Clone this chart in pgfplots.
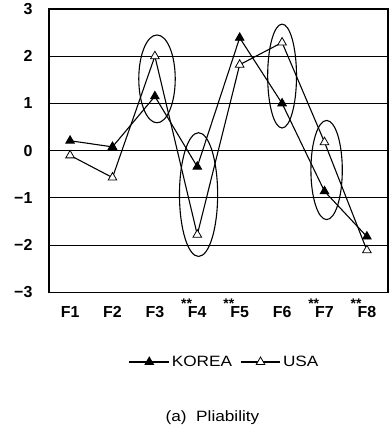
\documentclass[border=0pt]{standalone}
\usepackage{fontspec}
\setmainfont{Liberation Sans}
\newfontfamily\wide{Liberation Sans}[FakeStretch=1.15]
\usepackage{pgfplots}
\pgfplotsset{compat=1.18}
\newcommand{\stars}{\llap{\smash{\raisebox{9pt}{\fontsize{14}{14}\selectfont\bfseries **}}\kern-4pt}}
\begin{document}
\begin{tikzpicture}
\begin{axis}[
  scale only axis, width=340pt, height=284pt,
  xmin=0.5, xmax=8.5, ymin=-3, ymax=3,
  xtick={1,2,3,4,5,6,7,8},
  xticklabels={F1,F2,F3,\stars F4,\stars F5,F6,\stars F7,\stars F8},
  ytick={-3,-2,-1,0,1,2,3},
  yticklabels={−3,−2,−1,0,1,2,3},
  ymajorgrids, grid style={black, line width=0.9pt},
  axis line style={line width=1.3pt},
  major tick length=0pt,
  tick label style={font=\fontsize{16}{18}\selectfont\bfseries},
  yticklabel style={xshift=-13pt},
  xticklabel style={yshift=-11pt},
  legend style={at={(axis description cs:0.518,-0.246)}, anchor=center, draw=none,
    font=\wide\fontsize{15}{17}\selectfont, legend columns=2,
    /tikz/every even column/.append style={column sep=6pt}},
  legend image code/.code={\draw[mark repeat=2,mark phase=2,#1] plot coordinates {(0pt,0pt) (20pt,0pt) (40pt,0pt)};},
  every axis plot/.append style={line width=1.1pt, black},
]
\addplot[mark=triangle*, mark size=5pt, mark options={fill=black, line width=0.8pt}] coordinates {
(1,0.21) (2,0.08) (3,1.15) (4,-0.34) (5,2.39) (6,1.0) (7,-0.86) (8,-1.82)};
\addlegendentry{KOREA}
\addplot[mark=triangle*, mark size=5pt, mark options={fill=white, line width=0.8pt}] coordinates {
(1,-0.1) (2,-0.57) (3,2.0) (4,-1.78) (5,1.82) (6,2.29) (7,0.18) (8,-2.11)};
\addlegendentry{USA}
\draw[line width=1.1pt] (axis cs:3.05,1.52) ellipse [x radius=0.43, y radius=0.93];
\draw[line width=1.1pt] (axis cs:4.03,-0.93) ellipse [x radius=0.45, y radius=1.31];
\draw[line width=1.1pt] (axis cs:6.0,1.58) ellipse [x radius=0.34, y radius=1.1];
\draw[line width=1.1pt] (axis cs:7.05,-0.41) ellipse [x radius=0.37, y radius=1.05];
\end{axis}
\node[font=\wide\fontsize{15}{17}\selectfont] at ([shift={(164pt,-126pt)}]current axis.south west) {(a)\ \ Pliability};
\path (current axis.south west) ++(-49pt,-140pt) rectangle ([shift={(0.6pt,8pt)}]current axis.north east);
\end{tikzpicture}
\end{document}
